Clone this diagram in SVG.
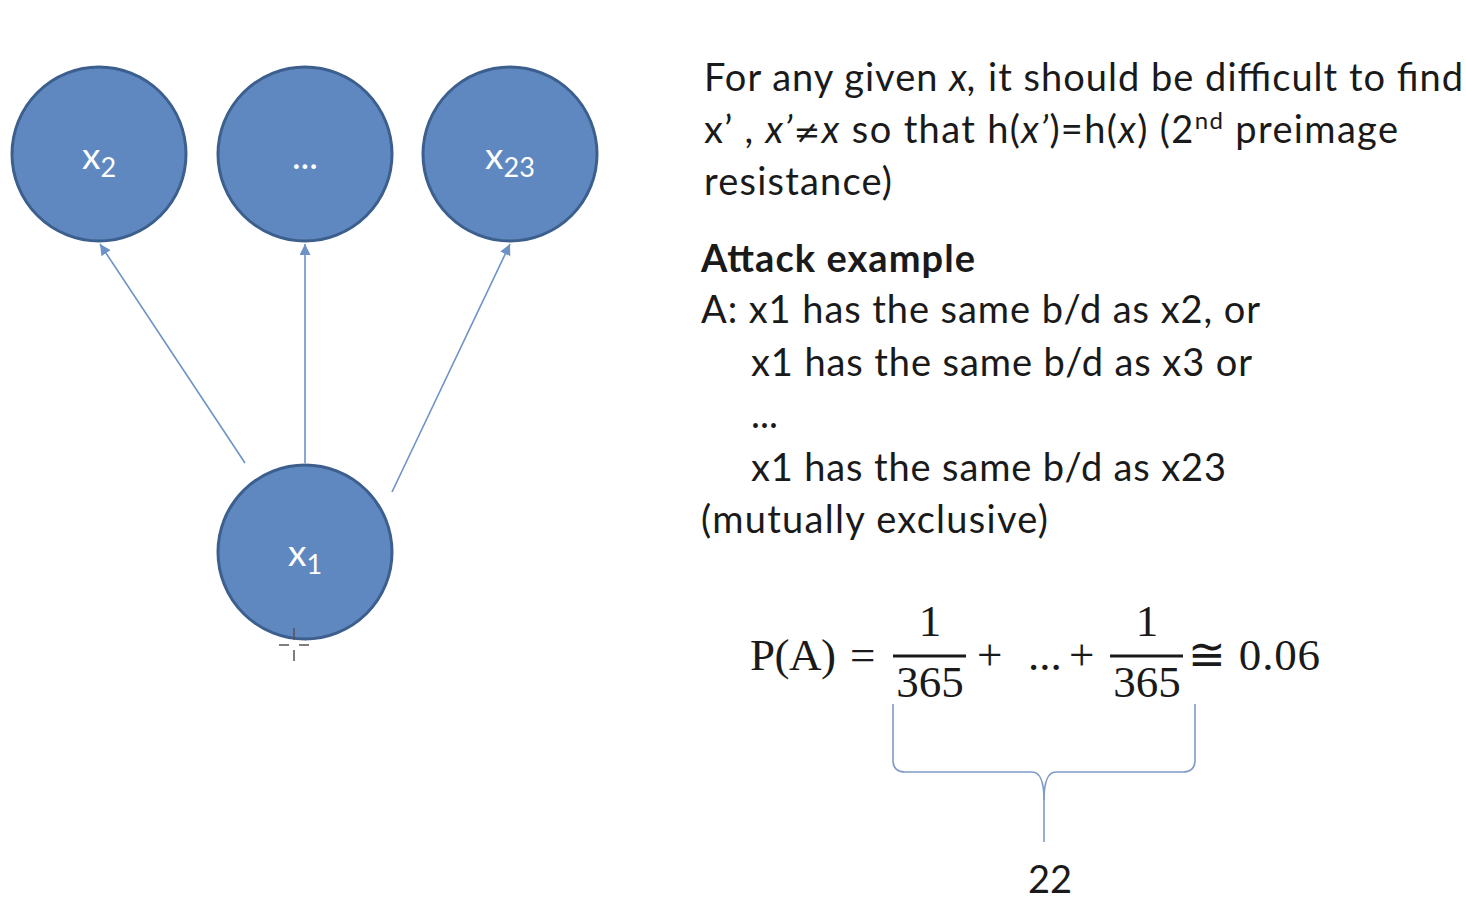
<svg xmlns="http://www.w3.org/2000/svg" width="1466" height="900" viewBox="0 0 1466 900">
  <style>
    .node { fill: #6088c0; stroke: #3c5f8e; stroke-width: 3; }
    .nlabel { font-family: Lato, "Open Sans", sans-serif; font-size: 37px; fill: #ffffff; text-anchor: middle; }
    .edge { stroke: #6d92c6; stroke-width: 1.6; fill: none; }
    .body { font-family: Lato, "Liberation Sans", sans-serif; font-size: 38px; fill: #1a1a1a; }
    .bold { font-weight: bold; }
    .math { font-family: "Liberation Serif", serif; font-size: 45px; fill: #1a1a1a; }
    .brace { stroke: #7f9bc8; stroke-width: 1.6; fill: none; }
  </style>
  <defs>
    <marker id="arrow" viewBox="0 0 10 10" refX="10" refY="5" markerWidth="11" markerHeight="11" markerUnits="userSpaceOnUse" orient="auto">
      <path d="M0,0 L10,5 L0,10 z" fill="#6d92c6"/>
    </marker>
  </defs>
  <rect width="1466" height="900" fill="#ffffff"/>

  <!-- connectors -->
  <g id="connectors">
    <line class="edge" x1="245" y1="463" x2="100" y2="244" marker-end="url(#arrow)"/>
    <line class="edge" x1="305" y1="463" x2="305" y2="244" marker-end="url(#arrow)"/>
    <line class="edge" x1="392" y1="492" x2="510" y2="244" marker-end="url(#arrow)"/>
  </g>

  <!-- nodes -->
  <g id="node-x2">
    <circle class="node" cx="99" cy="154" r="87"/>
    <text class="nlabel" x="99" y="169">x<tspan font-size="27" dy="8">2</tspan></text>
  </g>
  <g id="node-dots">
    <circle class="node" cx="305" cy="154" r="87"/>
    <text class="nlabel" x="305" y="169">...</text>
  </g>
  <g id="node-x23">
    <circle class="node" cx="510" cy="154" r="87"/>
    <text class="nlabel" x="510" y="169">x<tspan font-size="27" dy="8">23</tspan></text>
  </g>
  <g id="node-x1">
    <circle class="node" cx="305" cy="552" r="87"/>
    <text class="nlabel" x="305" y="566">x<tspan font-size="27" dy="8">1</tspan></text>
  </g>

  <!-- pointer crosshair -->
  <g id="cursor" stroke="#555555" stroke-width="1.5">
    <line x1="294" y1="628" x2="294" y2="640"/>
    <line x1="294" y1="650" x2="294" y2="661"/>
    <line x1="279" y1="645" x2="289" y2="645"/>
    <line x1="299" y1="645" x2="309" y2="645"/>
  </g>

  <!-- description text -->
  <g id="description">
    <text class="body" x="704" y="91" textLength="759">For any given <tspan font-style="italic">x,</tspan> it should be difficult to find</text>
    <text class="body" x="704" y="143" textLength="694">x’ , <tspan font-style="italic">x’</tspan><tspan font-family="'DejaVu Sans', sans-serif" font-size="32">≠</tspan><tspan font-style="italic">x</tspan> so that h(<tspan font-style="italic">x’</tspan>)=h(<tspan font-style="italic">x</tspan>) (2<tspan font-size="24" dy="-14">nd</tspan><tspan dy="14"> preimage</tspan></text>
    <text class="body" x="704" y="195" textLength="188">resistance)</text>
    <text class="body bold" x="701" y="272" textLength="274">Attack example</text>
    <text class="body" x="701" y="323" textLength="559">A: x1 has the same b/d as x2, or</text>
    <text class="body" x="751" y="376" textLength="501">x1 has the same b/d as x3 or</text>
    <text class="body" x="751" y="428">...</text>
    <text class="body" x="751" y="481" textLength="475">x1 has the same b/d as x23</text>
    <text class="body" x="701" y="533" textLength="347">(mutually exclusive)</text>
  </g>

  <!-- probability formula -->
  <g id="formula">
    <text class="math" x="750" y="670" textLength="86">P(A)</text>
    <text class="math" x="850" y="670">=</text>
    <text class="math" x="930" y="636" text-anchor="middle">1</text>
    <line x1="893" y1="656" x2="966" y2="656" stroke="#1a1a1a" stroke-width="3"/>
    <text class="math" x="930" y="697" text-anchor="middle">365</text>
    <text class="math" x="977" y="670">+</text>
    <text class="math" x="1028" y="670">...</text>
    <text class="math" x="1069" y="670">+</text>
    <text class="math" x="1147" y="636" text-anchor="middle">1</text>
    <line x1="1110" y1="656" x2="1183" y2="656" stroke="#1a1a1a" stroke-width="3"/>
    <text class="math" x="1147" y="697" text-anchor="middle">365</text>
    <text class="math" x="1188" y="670" textLength="132">≅ 0.06</text>
  </g>

  <!-- brace under the sum -->
  <g id="brace">
    <path class="brace" d="M893,704 L893,760 Q893,772 905,772 L1032,772 Q1044,772 1044,800 L1044,842"/>
    <path class="brace" d="M1195,704 L1195,760 Q1195,772 1183,772 L1056,772 Q1044,772 1044,800"/>
    <text class="body" x="1050" y="893" text-anchor="middle">22</text>
  </g>
</svg>
